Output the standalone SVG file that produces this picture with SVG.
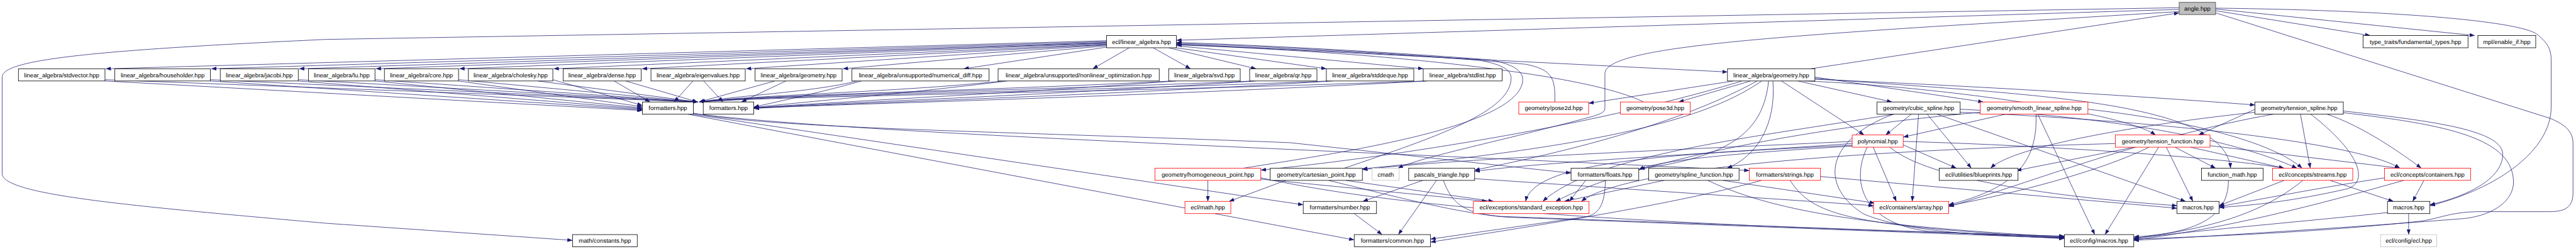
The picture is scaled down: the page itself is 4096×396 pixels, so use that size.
<svg xmlns="http://www.w3.org/2000/svg" width="4096" height="396" viewBox="0 0 4096 396">
<defs>
<marker id="a" markerUnits="userSpaceOnUse" markerWidth="12" markerHeight="9" refX="12" refY="4.5" orient="auto"><path d="M0,0 L12,4.5 L0,9 z" fill="#191970"/></marker>
<style>
.n rect{fill:#fff;stroke:#000;stroke-width:1.2}
.n.r rect{stroke:#f00}
.n.g rect{stroke:#bfbfbf}
.n.root rect{fill:#bfbfbf;stroke:#404040}
.n text{font-family:"Liberation Sans",Arial,sans-serif;font-size:14px;text-anchor:middle;fill:#000}
#edges path{fill:none;stroke:#191970;stroke-width:1.1;marker-end:url(#a)}
</style>
</defs>
<rect width="4096" height="396" fill="#fff"/>
<g transform="scale(0.68142)">
<g id="edges">
<path d="M5085,22 L2745,94"/>
<path d="M5085,18 L760,92 C200,118 5,140 5,180 L5,405 C5,455 300,480 760,521 L1336,561"/>
<path d="M5085,27 L4510,62 C4000,95 3745,120 3745,172 L3745,252 C3745,262 3735,266 3715,272 C3500,330 3320,365 3262,392.5"/>
<path d="M5170,25 L5531,83"/>
<path d="M5170,21 L5775,83"/>
<path d="M5170,19 C5600,24 5880,50 5920,80 C5945,100 5953,115 5953,140 L5953,250 C5953,350 5830,440 5670,480"/>
<path d="M5170,30 L5950,276 C5990,292 6004,310 6004,335 L6004,450 C6004,480 5990,494 5950,494 L5790,494 C5720,494 5700,508 5650,516 C5400,543 5150,552 4979,558"/>
<path d="M4225,160.5 L5085,30"/>
<path d="M2582,95 L247,160.5"/>
<path d="M2582,97 L493,160.5"/>
<path d="M2582,99 L698,160.5"/>
<path d="M2582,100 L877,160.5"/>
<path d="M2582,101 L1072,160.5"/>
<path d="M2582,103 L1292,160.5"/>
<path d="M2582,104 L1498,160.5"/>
<path d="M2582,105 L1741,160.5"/>
<path d="M2582,107 L1967,160.5"/>
<path d="M2582,110 L2249,160.5"/>
<path d="M2635,111.5 L2550,160.5"/>
<path d="M2691,111.5 L2778,160.5"/>
<path d="M2727,111.5 L2931,160.5"/>
<path d="M2733,110 L3095,160.5"/>
<path d="M2745,107 L3321,160.5"/>
<path d="M2745,103 L4031,168"/>
<path d="M245,189 L1499,258"/>
<path d="M245,186 L1628,238"/>
<path d="M491,189 L1499,256"/>
<path d="M491,186 L1628,238"/>
<path d="M696,189 L1499,254"/>
<path d="M696,186 L1628,238"/>
<path d="M875,189 L1499,252"/>
<path d="M875,186 L1628,238"/>
<path d="M1070,189 L1499,249"/>
<path d="M1070,186 L1628,238"/>
<path d="M1290,186 L1499,246"/>
<path d="M1255,189 L1628,238"/>
<path d="M1433,189 L1517,238"/>
<path d="M1460,189 L1628,238"/>
<path d="M1617,189 L1573,238"/>
<path d="M1642,189 L1687,238"/>
<path d="M1808,189 L1631,238"/>
<path d="M1834,189 L1730,238"/>
<path d="M2000,189 C1900,215 1700,225 1633,238"/>
<path d="M2010,189 C1900,220 1800,240 1759,250"/>
<path d="M2340,189 C2100,215 1750,222 1633,238"/>
<path d="M2350,189 C2100,220 1850,240 1759,251"/>
<path d="M2735,189 C2300,212 1800,220 1633,238"/>
<path d="M2745,189 C2300,222 1900,240 1759,252"/>
<path d="M2925,189 C2400,212 1800,220 1633,238"/>
<path d="M2930,189 C2400,225 1900,242 1759,252"/>
<path d="M3100,189 C2500,214 1800,222 1633,238"/>
<path d="M3110,189 C2500,227 1900,243 1759,253"/>
<path d="M3325,189 C2600,216 1800,224 1633,238"/>
<path d="M3330,189 C2600,229 1900,244 1759,253"/>
<path d="M1618,264 C1800,300 2300,305 3010,333 L3666,404"/>
<path d="M1618,265 C2000,312 3000,345 4082,398"/>
<path d="M1614,266.5 L3041,478"/>
<path d="M1605,266.5 L3160,560"/>
<path d="M4045,189 L3707,241"/>
<path d="M4085,189 L3917,238"/>
<path d="M4195,189 L4415,238"/>
<path d="M4157,189 L4350,315"/>
<path d="M4137,189 C4145,290 4100,365 4030,392.5"/>
<path d="M4127,189 C4115,300 4050,365 3826,394"/>
<path d="M4111,189 C4000,265 3800,335 3179,394"/>
<path d="M4100,189 C3900,300 3600,365 3441,397"/>
<path d="M4065,189 C3700,300 3200,372 2942,397"/>
<path d="M4235,180 L4628,238"/>
<path d="M4235,185 C4600,200 5000,225 5262,245"/>
<path d="M4210,189 C4500,200 4950,260 5030,315"/>
<path d="M4235,183 C4700,220 5190,230 5205,392.5"/>
<path d="M3628,238 C3630,180 3620,162 3560,150 C3300,125 2900,110 2745,103"/>
<path d="M3835,238 C3700,170 3200,120 2745,105"/>
<path d="M3137,392.5 C3350,320 3530,260 3526,180 C3524,160 3500,150 3450,140 C3200,120 2900,106 2745,101"/>
<path d="M2902,392.5 C3100,360 3540,300 3553,190 C3556,165 3530,150 3480,140 C3200,118 2900,104 2745,99"/>
<path d="M2818.5,421 L2818.5,470"/>
<path d="M3000,421 L2868,470"/>
<path d="M2942,418 L3470,470"/>
<path d="M3140,421 L3485,470"/>
<path d="M3100,421 C3300,470 3400,495 3500,505 L4817,553"/>
<path d="M2942,415 C3200,470 3600,520 4817,551"/>
<path d="M3320,421 L3180,470"/>
<path d="M3352,421 L3263,547.5"/>
<path d="M3368,421 C3390,480 3420,500 3520,507 L4817,556"/>
<path d="M3441,417 L4372,480"/>
<path d="M3746,421 C3745,480 3730,500 3700,506 L3338,558"/>
<path d="M3700,421 L3662,470"/>
<path d="M3883,421 L3650,470"/>
<path d="M4020,421 L4375,474"/>
<path d="M3985,421 C4150,500 4400,530 4817,553"/>
<path d="M4110,421 C3900,480 3500,540 3338,565"/>
<path d="M4177,421 C4230,500 4300,527 4817,555"/>
<path d="M4248,412 L5080,486"/>
<path d="M4322,335 C4000,358 3600,378 3441,400"/>
<path d="M4322,330 C3900,350 3400,370 3179,396"/>
<path d="M4322,339 C3900,360 3580,375 3560,470"/>
<path d="M4322,341 C4000,360 3860,378 3824,396"/>
<path d="M4371,343.5 L4425,470"/>
<path d="M4357,343.5 C4320,420 4340,520 4500,540 L4817,557"/>
<path d="M4410,343.5 C4500,420 4800,460 5080,480"/>
<path d="M4441,338 L4565,392.5"/>
<path d="M4441,330 C4800,340 5200,370 5330,392.5"/>
<path d="M4460,266.5 L4400,315"/>
<path d="M4477,266.5 L4462,470"/>
<path d="M4418,266.5 C4250,330 4250,440 4350,500 C4450,540 4600,549 4817,555"/>
<path d="M4420,266.5 C4100,320 3720,360 3600,470"/>
<path d="M4497,266.5 L4600,392.5"/>
<path d="M4520,266.5 L5100,470"/>
<path d="M4574,255 C4900,270 5200,320 5360,392.5"/>
<path d="M4574,262 C5000,280 5500,330 5600,392.5"/>
<path d="M4680,266.5 L4441,320"/>
<path d="M4751,266.5 C4755,380 4700,440 4547,478"/>
<path d="M4755,266.5 L4888,547.5"/>
<path d="M4621,262 C4200,300 3800,380 3630,470"/>
<path d="M4872,255 C5100,280 5300,330 5372,392.5"/>
<path d="M4980,343.5 L4705,398"/>
<path d="M5015,343.5 C4900,400 4700,452 4547,480"/>
<path d="M5037,343.5 L4912,547.5"/>
<path d="M5055,343.5 L5117,470"/>
<path d="M5075,343.5 L5170,392.5"/>
<path d="M5111,343.5 L5330,392.5"/>
<path d="M4936,335 C4400,350 3800,385 3690,470"/>
<path d="M5157,340 L5600,392.5"/>
<path d="M5262,255 L5130,315"/>
<path d="M5368,266.5 L5391,392.5"/>
<path d="M5430,266.5 C5500,290 5580,340 5650,392.5"/>
<path d="M5468,259 C5650,280 5840,300 5840,360 C5840,420 5750,460 5670,478"/>
<path d="M5468,263 C5700,290 5870,320 5865,430 C5860,480 5800,505 5750,510 C5500,530 5100,555 4979,561"/>
<path d="M5392,266.5 C5500,350 5530,420 5480,440 C5350,470 5250,480 5178,484"/>
<path d="M5305,266.5 C5000,320 4700,440 4547,482"/>
<path d="M5262,262 C5000,290 4700,340 4645,392.5"/>
<path d="M5200,421 C5200,520 5100,545 4979,553"/>
<path d="M5330,421 L5178,480"/>
<path d="M5374,421 C5300,480 5200,530 4979,556"/>
<path d="M5437,421 L5585,470"/>
<path d="M5656,421 L5630,470"/>
<path d="M5565,415 C5400,440 5250,470 5178,482"/>
<path d="M5609,421 C5400,480 5200,532 4979,560"/>
<path d="M5620.5,498.5 L5620.5,547.5"/>
<path d="M5571,496 C5400,515 5100,540 4979,557"/>
<path d="M3160,498.5 L3225,547.5"/>
</g>
<g id="angle" class="n root"><rect x="5085" y="5.5" width="85" height="28.5"/><text x="5127.5" y="24.8">angle.hpp</text></g>
<g id="ecl_linear_algebra" class="n"><rect x="2582" y="83" width="163" height="28.5"/><text x="2663.5" y="102.3">ecl/linear_algebra.hpp</text></g>
<g id="fundamental_types" class="n"><rect x="5514" y="83" width="245" height="28.5"/><text x="5636.5" y="102.3">type_traits/fundamental_types.hpp</text></g>
<g id="enable_if" class="n"><rect x="5782" y="83" width="135" height="28.5"/><text x="5849.5" y="102.3">mpl/enable_if.hpp</text></g>
<g id="stdvector" class="n"><rect x="43" y="160.5" width="202" height="28.5"/><text x="144" y="179.8">linear_algebra/stdvector.hpp</text></g>
<g id="householder" class="n"><rect x="268" y="160.5" width="223" height="28.5"/><text x="379.5" y="179.8">linear_algebra/householder.hpp</text></g>
<g id="jacobi" class="n"><rect x="514" y="160.5" width="182" height="28.5"/><text x="605" y="179.8">linear_algebra/jacobi.hpp</text></g>
<g id="lu" class="n"><rect x="720" y="160.5" width="155" height="28.5"/><text x="797.5" y="179.8">linear_algebra/lu.hpp</text></g>
<g id="core" class="n"><rect x="897" y="160.5" width="173" height="28.5"/><text x="983.5" y="179.8">linear_algebra/core.hpp</text></g>
<g id="cholesky" class="n"><rect x="1093" y="160.5" width="197" height="28.5"/><text x="1191.5" y="179.8">linear_algebra/cholesky.hpp</text></g>
<g id="dense" class="n"><rect x="1314" y="160.5" width="182" height="28.5"/><text x="1405" y="179.8">linear_algebra/dense.hpp</text></g>
<g id="eigenvalues" class="n"><rect x="1519" y="160.5" width="220" height="28.5"/><text x="1629" y="179.8">linear_algebra/eigenvalues.hpp</text></g>
<g id="geometry_a" class="n"><rect x="1762" y="160.5" width="203" height="28.5"/><text x="1863.5" y="179.8">linear_algebra/geometry.hpp</text></g>
<g id="numerical_diff" class="n"><rect x="1988" y="160.5" width="320" height="28.5"/><text x="2148" y="179.8">linear_algebra/unsupported/numerical_diff.hpp</text></g>
<g id="nonlinear_optimization" class="n"><rect x="2329" y="160.5" width="376" height="28.5"/><text x="2517" y="179.8">linear_algebra/unsupported/nonlinear_optimization.hpp</text></g>
<g id="svd" class="n"><rect x="2727" y="160.5" width="167" height="28.5"/><text x="2810.5" y="179.8">linear_algebra/svd.hpp</text></g>
<g id="qr" class="n"><rect x="2916" y="160.5" width="157" height="28.5"/><text x="2994.5" y="179.8">linear_algebra/qr.hpp</text></g>
<g id="stddeque" class="n"><rect x="3095" y="160.5" width="204" height="28.5"/><text x="3197" y="179.8">linear_algebra/stddeque.hpp</text></g>
<g id="stdlist" class="n"><rect x="3321" y="160.5" width="184" height="28.5"/><text x="3413" y="179.8">linear_algebra/stdlist.hpp</text></g>
<g id="geometry_b" class="n"><rect x="4031" y="160.5" width="204" height="28.5"/><text x="4133" y="179.8">linear_algebra/geometry.hpp</text></g>
<g id="formatters_1" class="n"><rect x="1499" y="238" width="119" height="28.5"/><text x="1558.5" y="257.3">formatters.hpp</text></g>
<g id="formatters_2" class="n"><rect x="1641" y="238" width="118" height="28.5"/><text x="1700" y="257.3">formatters.hpp</text></g>
<g id="pose2d" class="n r"><rect x="3544" y="238" width="163" height="28.5"/><text x="3625.5" y="257.3">geometry/pose2d.hpp</text></g>
<g id="pose3d" class="n r"><rect x="3781" y="238" width="163" height="28.5"/><text x="3862.5" y="257.3">geometry/pose3d.hpp</text></g>
<g id="cubic_spline" class="n"><rect x="4380" y="238" width="194" height="28.5"/><text x="4477" y="257.3">geometry/cubic_spline.hpp</text></g>
<g id="smooth_linear_spline" class="n r"><rect x="4621" y="238" width="251" height="28.5"/><text x="4746.5" y="257.3">geometry/smooth_linear_spline.hpp</text></g>
<g id="tension_spline" class="n"><rect x="5262" y="238" width="206" height="28.5"/><text x="5365" y="257.3">geometry/tension_spline.hpp</text></g>
<g id="polynomial" class="n r"><rect x="4322" y="315" width="119" height="28.5"/><text x="4381.5" y="334.3">polynomial.hpp</text></g>
<g id="tension_function" class="n r"><rect x="4936" y="315" width="221" height="28.5"/><text x="5046.5" y="334.3">geometry/tension_function.hpp</text></g>
<g id="homogeneous_point" class="n r"><rect x="2695" y="392.5" width="247" height="28.5"/><text x="2818.5" y="411.8">geometry/homogeneous_point.hpp</text></g>
<g id="cartesian_point" class="n"><rect x="2964" y="392.5" width="215" height="28.5"/><text x="3071.5" y="411.8">geometry/cartesian_point.hpp</text></g>
<g id="cmath" class="n g"><rect x="3202" y="392.5" width="63" height="28.5"/><text x="3233.5" y="411.8">cmath</text></g>
<g id="pascals_triangle" class="n"><rect x="3287" y="392.5" width="154" height="28.5"/><text x="3364" y="411.8">pascals_triangle.hpp</text></g>
<g id="floats" class="n"><rect x="3666" y="392.5" width="158" height="28.5"/><text x="3745" y="411.8">formatters/floats.hpp</text></g>
<g id="spline_function" class="n"><rect x="3847" y="392.5" width="211" height="28.5"/><text x="3952.5" y="411.8">geometry/spline_function.hpp</text></g>
<g id="strings" class="n r"><rect x="4082" y="392.5" width="166" height="28.5"/><text x="4165" y="411.8">formatters/strings.hpp</text></g>
<g id="blueprints" class="n"><rect x="4525" y="392.5" width="184" height="28.5"/><text x="4617" y="411.8">ecl/utilities/blueprints.hpp</text></g>
<g id="function_math" class="n"><rect x="5137" y="392.5" width="144" height="28.5"/><text x="5209" y="411.8">function_math.hpp</text></g>
<g id="streams" class="n r"><rect x="5303" y="392.5" width="187" height="28.5"/><text x="5396.5" y="411.8">ecl/concepts/streams.hpp</text></g>
<g id="containers" class="n r"><rect x="5564" y="392.5" width="201" height="28.5"/><text x="5664.5" y="411.8">ecl/concepts/containers.hpp</text></g>
<g id="ecl_math" class="n r"><rect x="2765" y="470" width="107" height="28.5"/><text x="2818.5" y="489.3">ecl/math.hpp</text></g>
<g id="number" class="n"><rect x="3041" y="470" width="171" height="28.5"/><text x="3126.5" y="489.3">formatters/number.hpp</text></g>
<g id="standard_exception" class="n r"><rect x="3438" y="470" width="270" height="28.5"/><text x="3573" y="489.3">ecl/exceptions/standard_exception.hpp</text></g>
<g id="array" class="n r"><rect x="4372" y="470" width="175" height="28.5"/><text x="4459.5" y="489.3">ecl/containers/array.hpp</text></g>
<g id="macros_1" class="n"><rect x="5080" y="470" width="98" height="28.5"/><text x="5129" y="489.3">macros.hpp</text></g>
<g id="macros_2" class="n"><rect x="5571" y="470" width="99" height="28.5"/><text x="5620.5" y="489.3">macros.hpp</text></g>
<g id="constants" class="n"><rect x="1336" y="547.5" width="151" height="28.5"/><text x="1411.5" y="566.8">math/constants.hpp</text></g>
<g id="common" class="n"><rect x="3160" y="547.5" width="178" height="28.5"/><text x="3249" y="566.8">formatters/common.hpp</text></g>
<g id="config_macros" class="n"><rect x="4817" y="547.5" width="162" height="28.5"/><text x="4898" y="566.8">ecl/config/macros.hpp</text></g>
<g id="config_ecl" class="n g"><rect x="5555" y="547.5" width="131" height="28.5"/><text x="5620.5" y="566.8">ecl/config/ecl.hpp</text></g>
</g>
</svg>
